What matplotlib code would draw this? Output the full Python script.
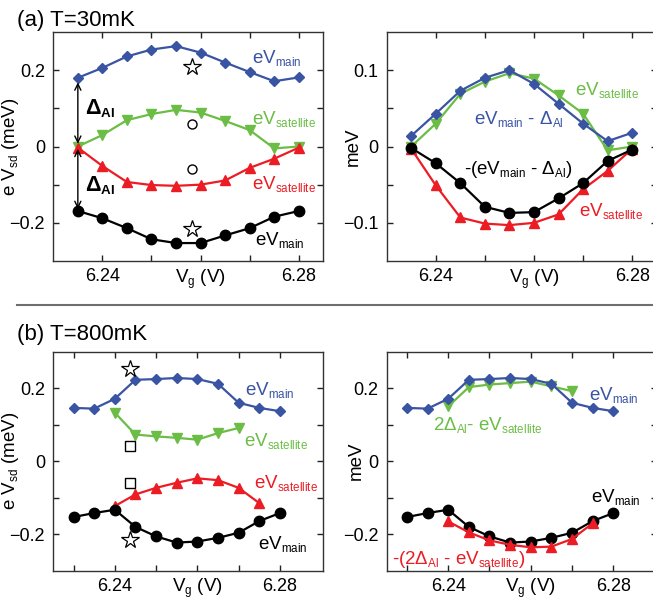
import matplotlib
matplotlib.use("Agg")
import matplotlib.pyplot as plt
from matplotlib.lines import Line2D
try:
    import matplotlib._mathtext as _mt
    _mt.SHRINK_FACTOR = 0.62
except Exception:
    pass

plt.rcParams['font.family'] = ['Liberation Sans', 'DejaVu Sans']
plt.rcParams['mathtext.fontset'] = 'custom'
plt.rcParams['mathtext.rm'] = 'Liberation Sans'
plt.rcParams['mathtext.it'] = 'Liberation Sans:italic'
plt.rcParams['mathtext.bf'] = 'Liberation Sans:bold'

# ---------------- data ----------------
vg_a = [6.235, 6.240, 6.245, 6.250, 6.255, 6.260, 6.265, 6.270, 6.275, 6.280]
a_main_pos = [0.180, 0.206, 0.236, 0.254, 0.263, 0.246, 0.220, 0.195, 0.171, 0.181]
a_sat_pos = [0.000, 0.030, 0.069, 0.085, 0.096, 0.089, 0.067, 0.043, -0.005, 0.000]
a_sat_neg = [-0.003, -0.051, -0.093, -0.101, -0.103, -0.100, -0.089, -0.056, -0.032, -0.003]
a_main_neg = [-0.169, -0.188, -0.214, -0.243, -0.253, -0.253, -0.233, -0.214, -0.184, -0.169]
a_main_minus_gap = [0.014, 0.043, 0.073, 0.090, 0.100, 0.082, 0.056, 0.030, 0.007, 0.018]
a_neg_main_minus_gap = [-0.002, -0.022, -0.048, -0.079, -0.087, -0.086, -0.068, -0.048, -0.019, -0.004]

vg_b = [6.230, 6.235, 6.240, 6.245, 6.250, 6.255, 6.260, 6.265, 6.270, 6.275, 6.280]
b_main_pos = [0.146, 0.144, 0.171, 0.223, 0.225, 0.228, 0.225, 0.212, 0.160, 0.146, 0.137]
b_main_neg = [-0.153, -0.142, -0.133, -0.180, -0.206, -0.223, -0.220, -0.210, -0.196, -0.164, -0.142]
vg_b_sat_pos = [6.240, 6.245, 6.250, 6.255, 6.260, 6.265, 6.270]
b_sat_pos = [0.133, 0.073, 0.068, 0.064, 0.059, 0.077, 0.091]
b_gap2_minus_sat = [0.150, 0.203, 0.210, 0.214, 0.218, 0.205, 0.192]
vg_b_sat_neg = [6.240, 6.245, 6.250, 6.255, 6.260, 6.265, 6.270, 6.275]
b_sat_neg = [-0.123, -0.091, -0.073, -0.059, -0.047, -0.052, -0.073, -0.115]
b_neg_gap2_minus_sat = [-0.165, -0.195, -0.217, -0.229, -0.236, -0.234, -0.213, -0.170]

# open reference symbols
a_star_x, a_star_y = [6.2583, 6.2583], [0.207, -0.217]
a_circ_x, a_circ_y = [6.2583, 6.2583], [0.058, -0.059]
b_star_x, b_star_y = [6.2437, 6.2437], [0.253, -0.217]
b_sq_x, b_sq_y = [6.2437, 6.2437], [0.041, -0.059]

BLUE = '#3a54a4'
GREEN = '#6bbd45'
RED = '#ec1c24'
BLACK = '#000000'

W, H = 653, 601
fig = plt.figure(figsize=(W / 100, H / 100), dpi=100)

def add_ax(x0, ytop, ybot, width=270):
    return fig.add_axes([x0 / W, 1 - ybot / H, width / W, (ybot - ytop) / H])

FS_TICK = 13
FS_LAB = 13.5
FS_ANN = 13.5

def style(ax, xlim, ylim, xticks, xlabels, yticks, ylabels, ylabel, ylab_x):
    ax.set_xlim(*xlim)
    ax.set_ylim(*ylim)
    ax.set_xticks(xticks)
    ax.set_xticklabels(xlabels)
    ax.set_yticks(yticks)
    ax.set_yticklabels(ylabels)
    ax.tick_params(direction='in', length=4, width=1, top=True, right=True,
                   labelsize=FS_TICK, colors='#222222', labelcolor='black')
    ax.tick_params(axis='x', pad=5)
    ax.tick_params(axis='y', pad=6)
    for s in ax.spines.values():
        s.set_linewidth(1.0)
        s.set_color('#333333')
    ax.set_ylabel(ylabel, fontsize=FS_LAB)
    ax.yaxis.label.set_va('center')
    ax.yaxis.set_label_coords(ylab_x, 0.5)
    ax.set_xlabel(r'V$_{\mathrm{g}}$ (V)', fontsize=FS_LAB)
    ax.xaxis.label.set_va('baseline')
    ax.xaxis.set_label_coords((6.26 - xlim[0]) / (xlim[1] - xlim[0]), -0.098)

def series(ax, x, y, color, marker, ms):
    ax.plot(x, y, color=color, lw=1.6, marker=marker, ms=ms,
            markeredgecolor=color, markerfacecolor=color, clip_on=False)

def lab(ax, x, y, s, color, fs=FS_ANN, **kw):
    ax.text(x, y, s, color=color, fontsize=fs, ha='left', va='baseline', **kw)

xa = (6.23, 6.285)
xb = (6.2251, 6.2905)
xt_a = [6.24, 6.25, 6.26, 6.27, 6.28]
xt_b = [6.23, 6.24, 6.25, 6.26, 6.27, 6.28]
xl_a = ['6.24', '', '', '', '6.28']
xl_b = ['', '6.24', '', '', '', '6.28']

main = r'eV$_{\mathrm{main}}$'
sat = r'eV$_{\mathrm{satellite}}$'

# ---------------- (a) left ----------------
ax1 = add_ax(53.3, 32, 261)
style(ax1, xa, (-0.3, 0.3), xt_a, xl_a, [-0.2, -0.1, 0, 0.1, 0.2],
      ['\u22120.2', '', '0', '', '0.2'], r'e V$_{\mathrm{sd}}$ (meV)', -0.157)
series(ax1, vg_a, a_main_pos, BLUE, 'D', 5.5)
series(ax1, vg_a, a_sat_pos, GREEN, 'v', 7.5)
series(ax1, vg_a, a_sat_neg, RED, '^', 7.5)
series(ax1, vg_a, a_main_neg, BLACK, 'o', 7.5)
ax1.plot(a_star_x, a_star_y, ls='none', marker='*', ms=13, mfc='white', mec='black', mew=0.9)
ax1.plot(a_circ_x, a_circ_y, ls='none', marker='o', ms=6.5, mfc='white', mec='black', mew=1.0)
arw = dict(arrowstyle='<->,head_length=0.45,head_width=0.22', color='black', lw=1.0,
           shrinkA=0, shrinkB=0)
ax1.annotate('', xy=(6.235, 0.168), xytext=(6.235, 0.007), arrowprops=arw)
ax1.annotate('', xy=(6.235, -0.006), xytext=(6.235, -0.164), arrowprops=arw)
ax1.text(6.2364, 0.083, r'$\mathbf{\Delta_{Al}}$', fontsize=15.5, ha='left', va='baseline')
ax1.text(6.2364, -0.117, r'$\mathbf{\Delta_{Al}}$', fontsize=15.5, ha='left', va='baseline')
lab(ax1, 6.2704, 0.219, main, BLUE)
lab(ax1, 6.2704, 0.060, sat, GREEN)
lab(ax1, 6.2704, -0.111, sat, RED)
lab(ax1, 6.2711, -0.259, main, BLACK)

# ---------------- (a) right ----------------
ax2 = add_ax(386.7, 32, 261)
style(ax2, xa, (-0.15, 0.15), xt_a, xl_a, [-0.1, -0.05, 0, 0.05, 0.1],
      ['\u22120.1', '', '0', '', '0.1'], 'meV', -0.125)
series(ax2, vg_a, a_sat_pos, GREEN, 'v', 7.5)
series(ax2, vg_a, a_main_minus_gap, BLUE, 'D', 5.5)
series(ax2, vg_a, a_sat_neg, RED, '^', 7.5)
series(ax2, vg_a, a_neg_main_minus_gap, BLACK, 'o', 7.5)
lab(ax2, 6.2684, 0.067, sat, GREEN)
lab(ax2, 6.2478, 0.029, r'eV$_{\mathrm{main}}$ - $\Delta_{\mathrm{Al}}$', BLUE)
lab(ax2, 6.2458, -0.036, r'-(eV$_{\mathrm{main}}$ - $\Delta_{\mathrm{Al}}$)', BLACK)
lab(ax2, 6.2691, -0.091, sat, RED)

# ---------------- (b) left ----------------
ax3 = add_ax(53.3, 351.7, 570.7)
style(ax3, xb, (-0.3, 0.3), xt_b, xl_b, [-0.2, -0.1, 0, 0.1, 0.2],
      ['\u22120.2', '', '0', '', '0.2'], r'e V$_{\mathrm{sd}}$ (meV)', -0.157)
series(ax3, vg_b, b_main_pos, BLUE, 'D', 5.5)
series(ax3, vg_b_sat_pos, b_sat_pos, GREEN, 'v', 7.5)
series(ax3, vg_b_sat_neg, b_sat_neg, RED, '^', 7.5)
series(ax3, vg_b, b_main_neg, BLACK, 'o', 7.5)
ax3.plot(b_star_x, b_star_y, ls='none', marker='*', ms=13, mfc='white', mec='black', mew=0.9)
ax3.plot(b_sq_x, b_sq_y, ls='none', marker='s', ms=6.5, mfc='white', mec='black', mew=1.0)
lab(ax3, 6.2715, 0.180, main, BLUE)
lab(ax3, 6.2713, 0.041, sat, GREEN)
lab(ax3, 6.2736, -0.073, sat, RED)
lab(ax3, 6.2747, -0.241, main, BLACK)

# ---------------- (b) right ----------------
ax4 = add_ax(386.7, 351.7, 570.7)
style(ax4, xb, (-0.3, 0.3), xt_b, xl_b, [-0.2, -0.1, 0, 0.1, 0.2],
      ['\u22120.2', '', '0', '', '0.2'], 'meV', -0.112)
series(ax4, vg_b_sat_pos, b_gap2_minus_sat, GREEN, 'v', 7.5)
series(ax4, vg_b, b_main_pos, BLUE, 'D', 5.5)
series(ax4, vg_b, b_main_neg, BLACK, 'o', 7.5)
series(ax4, vg_b_sat_neg, b_neg_gap2_minus_sat, RED, '^', 7.5)
lab(ax4, 6.2742, 0.168, main, BLUE)
lab(ax4, 6.2362, 0.0845, r'2$\Delta_{\mathrm{Al}}$- eV$_{\mathrm{satellite}}$', GREEN)
lab(ax4, 6.2745, -0.111, main, BLACK)
lab(ax4, 6.2263, -0.283, r'-(2$\Delta_{\mathrm{Al}}$ - eV$_{\mathrm{satellite}}$)', RED)

# ---------------- titles and separator ----------------
fig.text(17 / W, 1 - 26 / H, '(a) T=30mK', fontsize=16, ha='left', va='baseline')
fig.text(17 / W, 1 - 340 / H, '(b) T=800mK', fontsize=16, ha='left', va='baseline')
fig.add_artist(Line2D([17 / W, 1.0], [1 - 304.7 / H] * 2, color='#6e6e6e', lw=1.5))

fig.savefig('out.png', dpi=100)
